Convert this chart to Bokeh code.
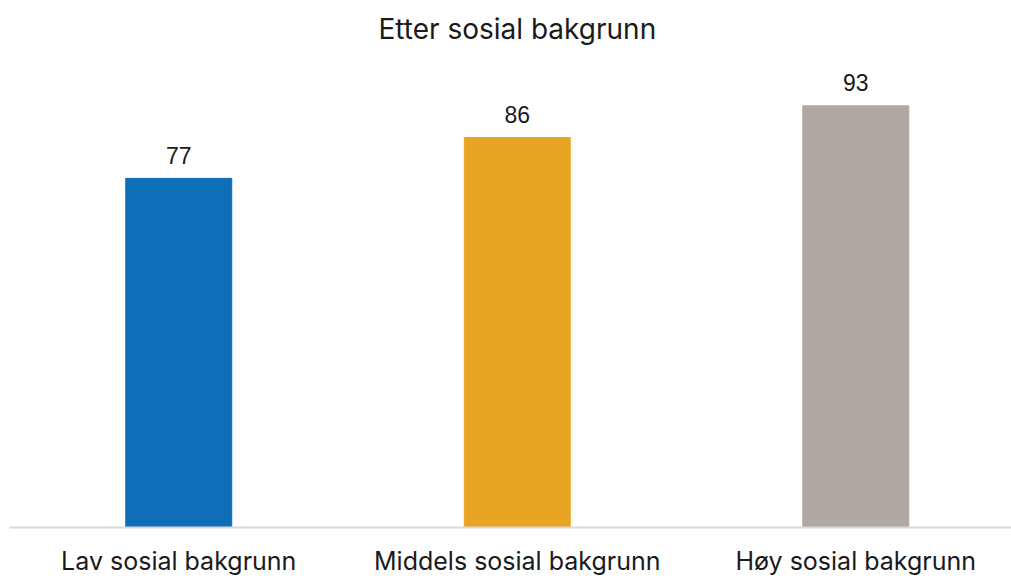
from bokeh.plotting import figure
from bokeh.models import ColumnDataSource, Range1d, FixedTicker
from bokeh.core.properties import value
from bokeh.embed import file_html
from bokeh.resources import INLINE

categories = ["Lav sosial bakgrunn", "Middels sosial bakgrunn", "Høy sosial bakgrunn"]
values = [77, 86, 93]
colors = ["#0f6eb8", "#e8a524", "#b0a8a2"]
title_text = "Etter sosial bakgrunn"

xs = list(range(len(categories)))
src = ColumnDataSource(dict(x=xs, top=values, color=colors,
                            label=[str(v) for v in values]))

p = figure(width=1011, height=578, output_backend="svg", toolbar_location=None,
           x_range=Range1d(-0.5, 2.46), y_range=Range1d(0, 105.2),
           min_border_left=9, min_border_right=0, min_border_top=50, min_border_bottom=50,
           title=title_text)

p.vbar(x="x", top="top", width=0.313, color="color", source=src)
p.text(x="x", y="top", text="label", source=src, text_align="center",
       text_baseline="alphabetic", y_offset=-23, text_font=value("Liberation Sans"),
       text_font_size="23px", text_color="#1a1a1a")

p.title.align = "left"
p.title.offset = 369
p.title.text_font = "Inter"
p.title.text_font_size = "28px"
p.title.text_font_style = "normal"
p.title.text_color = "#1a1a1a"
p.title.standoff = 10

p.yaxis.visible = False
p.xgrid.visible = False
p.ygrid.visible = False
p.outline_line_color = None

ax = p.xaxis[0]
ax.ticker = FixedTicker(ticks=xs)
ax.major_label_overrides = {i: c for i, c in enumerate(categories)}
ax.major_tick_line_color = None
ax.minor_tick_line_color = None
ax.axis_line_color = "#d9d9d9"
ax.axis_line_width = 2
ax.major_label_text_font = "Inter"
ax.major_label_text_font_size = "25px"
ax.major_label_text_color = "#1a1a1a"
ax.major_label_standoff = 12

open("out.html", "w").write(file_html(p, INLINE))
